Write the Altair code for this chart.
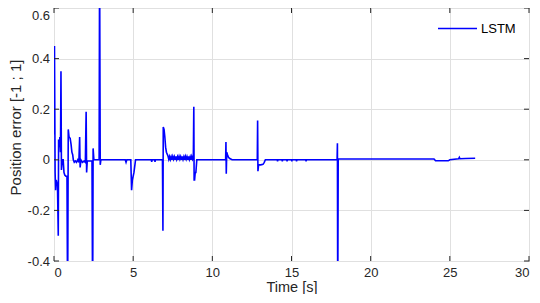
import altair as alt
import pandas as pd

# ---- data (time [s], position error) ----
t_vals = [
    0.00, 0.03, 0.05, 0.07, 0.10, 0.14, 0.18, 0.22, 0.27, 0.29, 0.33, 0.37, 0.41, 0.44, 0.47,
    0.52, 0.58, 0.63, 0.68, 0.75, 0.82, 0.86, 0.90, 0.95, 1.02, 1.08, 1.13, 1.18, 1.22, 1.28,
    1.35, 1.42, 1.50, 1.57, 1.62, 1.65, 1.70, 1.80, 1.90, 1.98, 2.03, 2.06, 2.10, 2.25, 2.40,
    2.44, 2.47, 2.52, 2.70, 2.85, 2.88, 2.92, 2.96, 3.50, 4.20, 4.50, 4.55, 4.60, 4.85, 4.90,
    4.95, 5.05, 5.15, 5.60, 6.15, 6.17, 6.20, 6.36, 6.38, 6.40, 6.85, 6.88, 6.90, 6.95, 7.00,
    7.05, 7.10, 7.20,
    7.25, 7.30, 7.35, 7.40, 7.45, 7.50, 7.55, 7.60, 7.65, 7.70, 7.75, 7.80, 7.85, 7.90, 7.95,
    8.00, 8.05, 8.10, 8.15, 8.20, 8.25, 8.30, 8.35, 8.40, 8.45, 8.50, 8.55, 8.60, 8.65, 8.70,
    8.75, 8.80,
    8.83, 8.85, 8.88, 8.92, 8.96, 9.02, 9.08, 9.60, 10.10, 10.50, 10.84, 10.86, 10.88, 10.91,
    10.96, 11.02, 11.10, 11.25, 12.00, 12.84, 12.86, 12.88, 12.92, 13.05, 13.20, 13.28, 13.35,
    13.60, 14.10, 14.12, 14.14, 14.40, 14.42, 14.44, 14.70, 14.72, 14.74, 15.00, 15.02, 15.04,
    15.30, 15.32, 15.34, 15.90, 15.92, 15.94, 17.00, 17.88, 17.90, 17.92, 17.95, 19.00, 21.00,
    22.00, 24.00, 24.10, 24.50, 24.90, 25.00, 25.55, 25.60, 25.64, 26.00, 26.60,
]
v_vals = [
    0.10, 0.45, 0.20, -0.05, -0.12, -0.08, -0.09, -0.10, -0.30, 0.08, 0.05, 0.09, 0.03, 0.35, -0.04,
    0.00, 0.00, -0.05, -0.06, -0.065, -0.065, -0.60, 0.12, 0.09, 0.085, 0.06, 0.03, 0.02, 0.00, -0.01,
    -0.005, -0.01, 0.00, -0.01, 0.09, -0.03, 0.00, -0.01, -0.005, -0.01, 0.19, -0.05, -0.005, -0.005, -0.005,
    -0.60, 0.045, 0.00, 0.00, 0.00, 0.80, -0.02, 0.00, 0.00, 0.00, 0.00, -0.01, 0.00, 0.00, -0.12,
    -0.08, -0.05, 0.00, 0.00, 0.00, -0.008, 0.00, 0.00, -0.008, 0.00, 0.00, -0.28, 0.13, 0.12, 0.09,
    0.05, 0.03, 0.015,
    0.002, 0.013, 0.001, 0.012, 0.000, 0.013, 0.002, 0.012, 0.000, 0.013, 0.001, 0.012, 0.000, 0.013, 0.002,
    0.012, 0.000, 0.013, 0.001, 0.012, 0.000, 0.013, 0.002, 0.012, 0.000, 0.013, 0.001, 0.012, 0.000, 0.013,
    0.002, 0.010,
    0.21, -0.08, -0.08, -0.05, -0.05, 0.00, 0.00, 0.00, 0.00, 0.00, 0.00, 0.07, -0.055, 0.03,
    0.02, 0.01, 0.005, 0.00, 0.00, 0.00, 0.155, -0.045, -0.02, -0.02, -0.018, -0.01, 0.00,
    0.00, 0.00, -0.006, 0.00, 0.00, -0.006, 0.00, 0.00, -0.006, 0.00, 0.00, -0.006, 0.00,
    0.00, -0.006, 0.00, 0.00, -0.006, 0.00, 0.00, 0.00, 0.065, -0.60, 0.003, 0.003, 0.003,
    0.003, 0.003, -0.004, -0.004, -0.004, 0.00, 0.004, 0.01, 0.004, 0.005, 0.006,
]
series_name = "LSTM"

x_ticks = [0, 5, 10, 15, 20, 25, 30]
y_ticks = [-0.4, -0.2, 0, 0.2, 0.4, 0.6]

W, H = 475, 253
FONT = "Liberation Sans"
DARK = "#262626"

df = pd.DataFrame({"t": t_vals, "v": v_vals, "s": series_name})
xt = pd.DataFrame({"t": x_ticks})
yt = pd.DataFrame({"v": y_ticks})

xscale = alt.Scale(domain=[0, 30], nice=False, zero=False)
yscale = alt.Scale(domain=[-0.4, 0.6], nice=False, zero=False)

line = alt.Chart(df).mark_line(clip=True, strokeWidth=1.6, interpolate="linear").encode(
    x=alt.X("t:Q", scale=xscale,
            axis=alt.Axis(values=x_ticks, title="Time [s]", format="d", grid=True,
                          labelPadding=5, titlePadding=1, titleFontSize=14.5)),
    y=alt.Y("v:Q", scale=yscale,
            axis=alt.Axis(values=y_ticks, title="Position error [-1 ; 1]", grid=True,
                          labelExpr="toString(datum.value)",
                          labelOffset={"condition": {"test": "datum.value == 0.6", "value": 7},
                                       "value": 0},
                          labelPadding=4.5, titleFontSize=15, titleY=119, titlePadding=4)),
    color=alt.Color("s:N", scale=alt.Scale(domain=[series_name], range=["#0000ff"]),
                    legend=alt.Legend(title=None, orient="none", legendX=383, legendY=0,
                                      symbolType="stroke", symbolSize=1521,
                                      symbolStrokeWidth=1.6, labelFontSize=13,
                                      labelFont=FONT, labelColor="#000000",
                                      labelOffset=3, padding=0)),
)

tick_style = dict(color=DARK, strokeWidth=1)
xb = alt.Chart(xt).mark_rule(**tick_style).encode(
    x=alt.X("t:Q", scale=xscale), y=alt.value(H), y2=alt.value(H - 5))
xtop = alt.Chart(xt).mark_rule(**tick_style).encode(
    x=alt.X("t:Q", scale=xscale), y=alt.value(0), y2=alt.value(5))
yl = alt.Chart(yt).mark_rule(**tick_style).encode(
    y=alt.Y("v:Q", scale=yscale), x=alt.value(0), x2=alt.value(5))
yr = alt.Chart(yt).mark_rule(**tick_style).encode(
    y=alt.Y("v:Q", scale=yscale), x=alt.value(W), x2=alt.value(W - 5))

chart = alt.layer(line, xb, xtop, yl, yr).properties(
    width=W, height=H,
    autosize=alt.AutoSizeParams(type="none"),
    padding={"left": 46, "top": 0, "right": 2, "bottom": 33},
).configure_view(
    stroke=DARK, strokeWidth=1,
).configure_axis(
    domain=False, ticks=False, gridColor="#e0e0e0", gridWidth=1,
    labelFont=FONT, labelFontSize=13, labelColor=DARK,
    titleFont=FONT, titleColor=DARK, titleFontWeight="normal",
)

chart.save("out.html", embed_options={"renderer": "svg", "actions": False})
